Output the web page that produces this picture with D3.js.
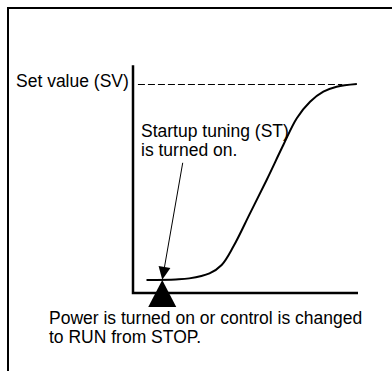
<!DOCTYPE html>
<html>
<head>
<meta charset="utf-8">
<script src="https://cdn.jsdelivr.net/npm/d3@7"></script>
<style>
	body { margin: 0; background: #fff; }
	text { font-family: "Liberation Sans", Arial, sans-serif; font-size: 17.5px; fill: #000; }
</style>
</head>
<body>
<svg id="chart" width="392" height="371"></svg>
<script>
// process value curve (time 0..100, SV = 100)
var timeValues = [6, 19, 25, 34, 39.4, 44.6, 52, 59.4, 66.8, 72.8, 78.7, 84.6, 90.5, 99.5];
var pvValues = [6.2, 6.5, 7.0, 9.4, 13.4, 22.2, 38.1, 54.1, 70.8, 83.6, 91.5, 96.3, 98.7, 100];
var setValue = 100;
var startTime = 13;
var svLabel = ["Set value (SV)"];
var stLabel = ["Startup tuning (ST)", "is turned on."];
var powerLabel = ["Power is turned on or control is changed", "to RUN from STOP."];

var svg = d3.select("#chart");

var x = d3.scaleLinear().domain([0, 100]).range([133, 358]);
var y = d3.scaleLinear().domain([0, 100]).range([293, 84]);

// frame
svg.append("path")
	.attr("d", "M8,371 V8 H392")
	.attr("fill", "none")
	.attr("stroke", "#000")
	.attr("stroke-width", 2);

// dashed SV line
svg.append("line")
	.attr("x1", x(2.2)).attr("x2", x(93))
	.attr("y1", y(setValue) + 0.5).attr("y2", y(setValue) + 0.5)
	.attr("stroke", "#000")
	.attr("stroke-width", 1)
	.attr("stroke-dasharray", "7,3");

// curve
var pts = timeValues.map(function(t, i) { return [t, pvValues[i]]; });
var line = d3.line()
	.x(function(d) { return x(d[0]); })
	.y(function(d) { return y(d[1]); })
	.curve(d3.curveCatmullRom.alpha(0.5));
svg.append("path")
	.attr("d", line(pts))
	.attr("fill", "none")
	.attr("stroke", "#000")
	.attr("stroke-width", 2);

// axes (plain lines, no ticks)
svg.append("path")
	.attr("d", "M" + x(0) + "," + y(109) + " V" + y(0) + " H" + x(100))
	.attr("fill", "none")
	.attr("stroke", "#000")
	.attr("stroke-width", 2.5);

// start marker triangle
var sx = x(startTime), sy = y(0);
svg.append("path")
	.attr("d", "M" + sx + "," + (sy - 13) + " L" + (sx + 14) + "," + (sy + 14) + " L" + (sx - 14) + "," + (sy + 14) + " Z")
	.attr("fill", "#000");

// arrow from ST label to start point
var tail = [x(22.1), y(62.3)];
var tip = [sx, y(6.3)];
var dx = tip[0] - tail[0], dy = tip[1] - tail[1];
var len = Math.sqrt(dx * dx + dy * dy);
var ux = dx / len, uy = dy / len;
var headLen = 13, headW = 6;
var bx = tip[0] - ux * headLen, by = tip[1] - uy * headLen;
svg.append("line")
	.attr("x1", tail[0]).attr("y1", tail[1])
	.attr("x2", bx).attr("y2", by)
	.attr("stroke", "#000")
	.attr("stroke-width", 1);
svg.append("path")
	.attr("d", "M" + tip[0] + "," + tip[1] +
		" L" + (bx - uy * headW) + "," + (by + ux * headW) +
		" L" + (bx + uy * headW) + "," + (by - ux * headW) + " Z")
	.attr("fill", "#000");

// labels
function addLines(lines, lx, ly) {
	lines.forEach(function(s, i) {
		svg.append("text")
			.attr("x", lx)
			.attr("y", ly + i * 19)
			.text(s);
	});
}
addLines(svLabel, 16, 87);
addLines(stLabel, 141, 137);
addLines(powerLabel, 49, 324);
</script>
</body>
</html>
